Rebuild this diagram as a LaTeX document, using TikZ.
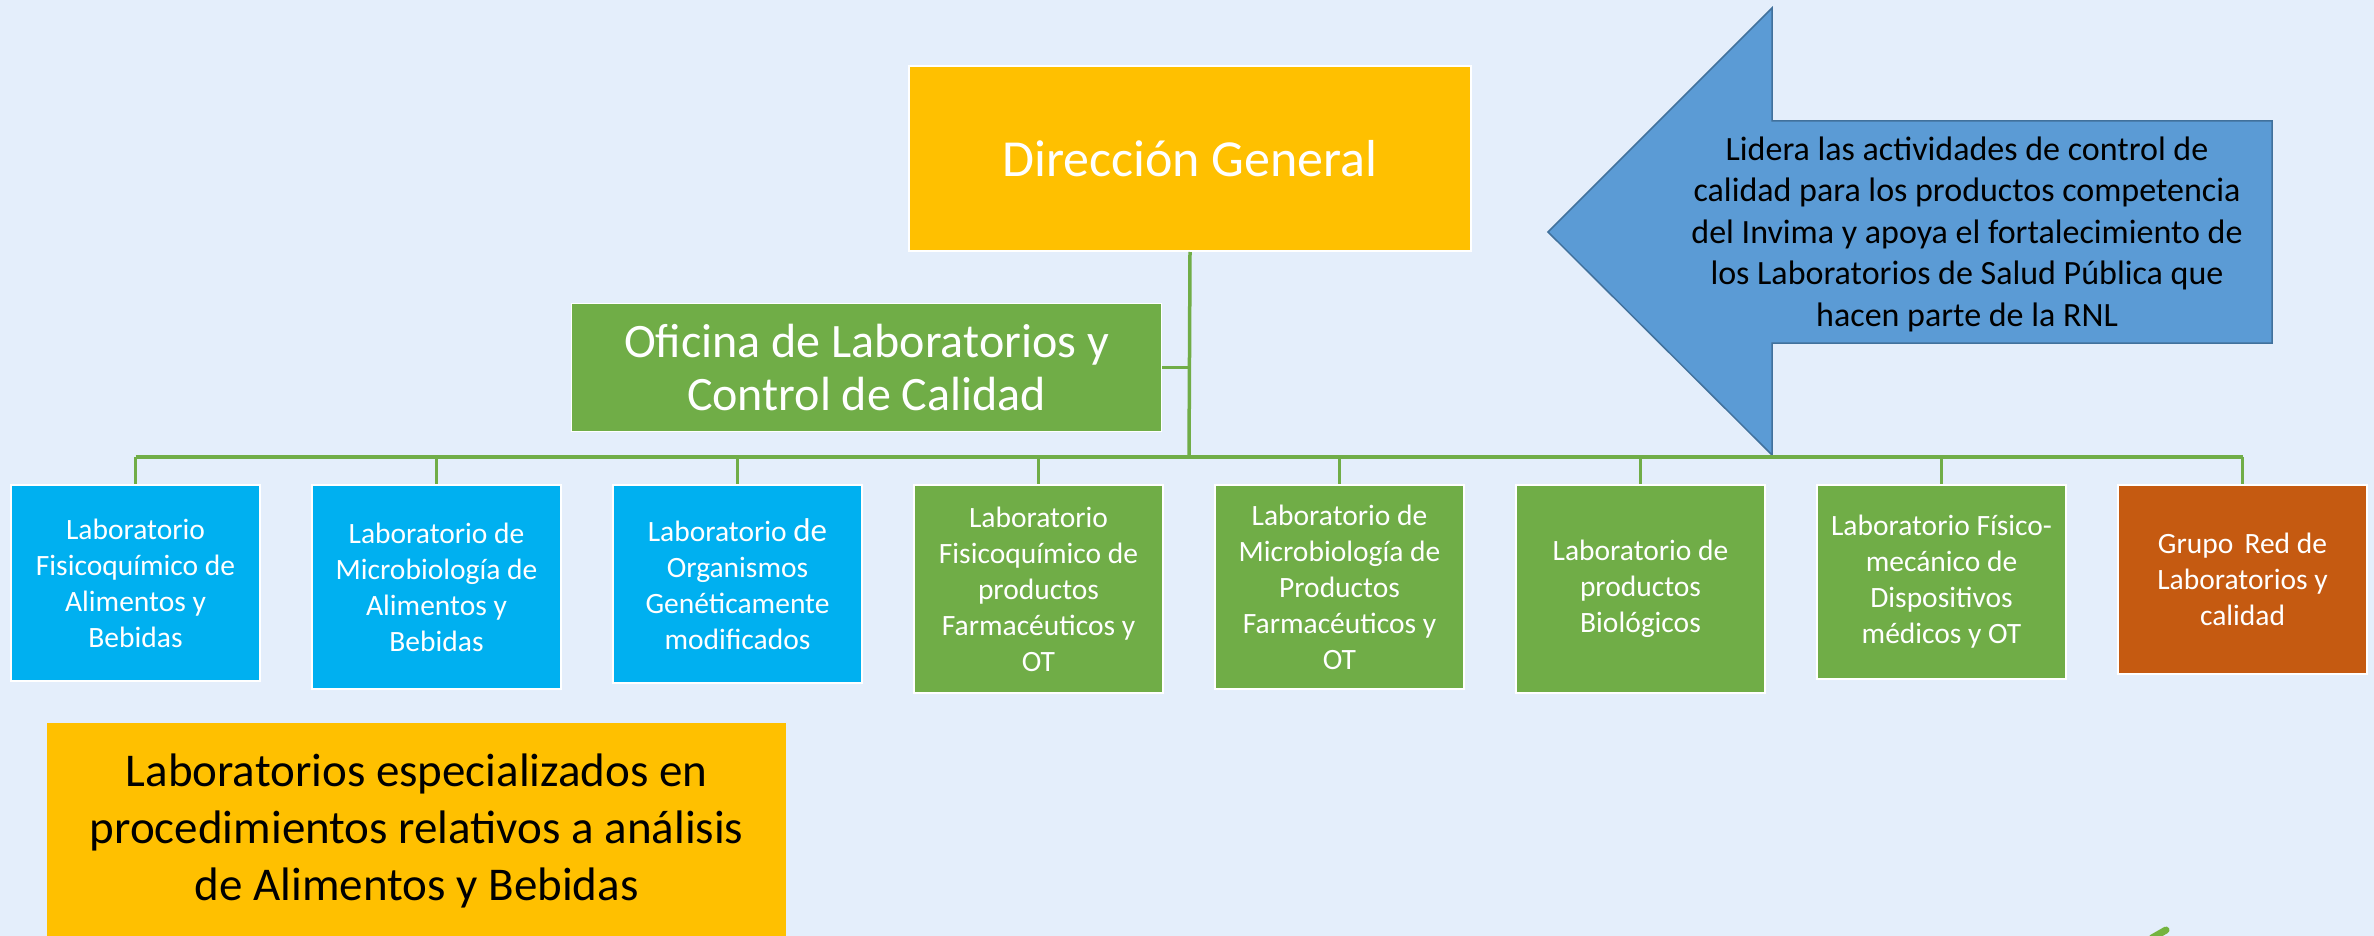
\documentclass[tikz,border=0pt]{standalone}
\usepackage{fontspec}
\setmainfont{Carlito}
\definecolor{bg}{HTML}{E4EEFB}
\definecolor{dgyellow}{HTML}{FFC000}
\definecolor{ofgreen}{HTML}{70AD47}
\definecolor{labcyan}{HTML}{00B0F0}
\definecolor{laborange}{HTML}{C55A11}
\definecolor{arrowfill}{HTML}{5B9BD5}
\definecolor{arrowline}{HTML}{41719C}
\definecolor{linegreen}{HTML}{70AD47}
\definecolor{leafgreen}{HTML}{74B43F}
\begin{document}
\begin{tikzpicture}[x=1pt,y=-1pt,
  box/.style={draw=white, line width=2pt, anchor=north west, inner sep=0pt, align=center, text=white},
  labbox/.style={box, minimum width=249pt, font=\fontsize{29.5}{36}\selectfont},
  conn/.style={draw=linegreen, line width=3.5pt},
  drop/.style={draw=linegreen, line width=2.2pt},
  bigarrow/.style={fill=arrowfill, draw=arrowline, line width=1.5pt, line join=miter}
]
\fill[bg] (0,0) rectangle (2374,936);
\useasboundingbox (0,0) rectangle (2374,936);

% big arrow
\draw[bigarrow] (1548,232) -- (1772,8) -- (1772,121) -- (2272,121) -- (2272,343) -- (1772,343) -- (1772,455) -- cycle;
\node[align=center, font=\fontsize{34}{41.5}\selectfont, text=black, inner sep=0pt] (arrtxt) at (1967,234)
 {Lidera las actividades de control de\\calidad para los productos competencia\\del Invima y apoya el fortalecimiento de\\los Laboratorios de Salud Pública que\\hacen parte de la RNL};

% top boxes
\node[box, fill=dgyellow, minimum width=562pt, minimum height=185pt, font=\fontsize{52}{62}\selectfont] (dg) at (908,65) {Dirección General};
\node[box, line width=1pt, fill=ofgreen, minimum width=590pt, minimum height=128pt, font=\fontsize{48}{53}\selectfont] (ofi) at (571,303) {Oficina de Laboratorios y\\Control de Calidad};

% lab boxes
\node[labbox, fill=labcyan, minimum height=196pt] (b1) at (10,484) {Laboratorio\\Fisicoquímico de\\Alimentos y\\Bebidas};
\node[labbox, fill=labcyan, minimum height=204pt] (b2) at (311,484) {Laboratorio de\\Microbiología de\\Alimentos y\\Bebidas};
\node[labbox, fill=labcyan, minimum height=198pt] (b3) at (612,484) {Laboratorio {\fontsize{33}{36}\selectfont de}\\Organismos\\Genéticamente\\modificados};
\node[labbox, fill=ofgreen, minimum height=208pt] (b4) at (913,484) {Laboratorio\\Fisicoquímico de\\productos\\Farmacéuticos y\\OT};
\node[labbox, fill=ofgreen, minimum height=204pt] (b5) at (1214,484) {Laboratorio de\\Microbiología de\\Productos\\Farmacéuticos y\\OT};
\node[labbox, fill=ofgreen, minimum height=208pt] (b6) at (1515,484) {Laboratorio de\\productos\\Biológicos};
\node[labbox, fill=ofgreen, minimum height=194pt] (b7) at (1816,484) {Laboratorio Físico-\\mecánico de\\Dispositivos\\médicos y OT};
\node[labbox, fill=laborange, minimum height=189pt] (b8) at (2117,484) {Grupo\hspace{.15em} Red de\\Laboratorios y\\calidad};

% bottom note
\node[anchor=north west, fill=dgyellow, inner sep=0pt, minimum width=739pt, minimum height=215pt, align=center, text=black, font=\fontsize{47}{57}\selectfont] (note) at (47,723)
 {Laboratorios especializados en\\procedimientos relativos a análisis\\de Alimentos y Bebidas};

% connectors
\coordinate (busM) at (1189,457);
\draw[conn] (dg.south) -- (busM);
\draw[conn] (ofi.east) -- (ofi.east -| dg.south);
\draw[conn] (b1.north |- busM) -- (b8.north |- busM);
\foreach \b in {b1,b2,b3,b4,b5,b6,b7,b8} {
  \draw[drop] (\b.north |- busM) -- (\b.north);
}

% leaf fragment of logo
\draw[leafgreen, line width=7pt, line cap=round] (2152,938) -- (2166,930);
\end{tikzpicture}
\end{document}
